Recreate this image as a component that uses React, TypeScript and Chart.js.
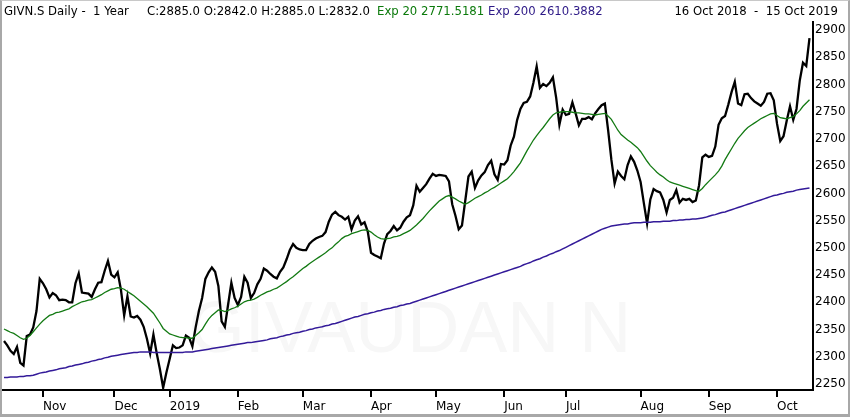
import React, { useEffect, useRef } from "react";
import { Chart, registerables } from "chart.js";

Chart.register(...registerables);

// Trading calendar (SIX Swiss Exchange)
const startDate = "2018-10-16";
const endDate = "2019-10-15";
const holidays = [
  "2018-12-24", "2018-12-25", "2018-12-26", "2018-12-31", "2019-01-01", "2019-01-02",
  "2019-04-19", "2019-04-22", "2019-05-01", "2019-05-30", "2019-06-10", "2019-08-01",
];

const monthLabels = ["Nov", "Dec", "2019", "Feb", "Mar", "Apr", "May", "Jun", "Jul", "Aug", "Sep", "Oct"];
const yTicks = [2250, 2300, 2350, 2400, 2450, 2500, 2550, 2600, 2650, 2700, 2750, 2800, 2850, 2900];

const closeValues = [
  2329, 2321, 2311, 2305, 2318, 2289, 2284, 2338, 2341, 2354,
  2384, 2443, 2435, 2424, 2409, 2417, 2413, 2404, 2405, 2404,
  2400, 2400, 2435, 2453, 2418, 2417, 2416, 2410, 2424, 2436,
  2437, 2458, 2476, 2451, 2446, 2455, 2423, 2376, 2411, 2374,
  2372, 2375, 2368, 2355, 2333, 2306, 2341, 2307, 2277, 2243,
  2271, 2296, 2321, 2316, 2317, 2321, 2339, 2335, 2319, 2354,
  2384, 2408, 2443, 2455, 2464, 2456, 2430, 2365, 2355, 2396,
  2436, 2408, 2395, 2410, 2447, 2436, 2408, 2417, 2433, 2443,
  2462, 2458, 2452, 2447, 2444, 2456, 2464, 2479, 2496, 2507,
  2500, 2497, 2496, 2496, 2507, 2513, 2517, 2520, 2522, 2529,
  2548, 2561, 2566, 2560, 2557, 2552, 2557, 2534, 2550, 2558,
  2543, 2547, 2530, 2491, 2487, 2484, 2481, 2508, 2525, 2531,
  2540, 2532, 2537, 2548, 2556, 2560, 2578, 2614, 2603, 2610,
  2617, 2627, 2636, 2632, 2634, 2633, 2632, 2622, 2580, 2559,
  2534, 2541, 2586, 2631, 2640, 2610, 2624, 2633, 2639, 2652,
  2660, 2635, 2625, 2654, 2653, 2661, 2688, 2704, 2735, 2755,
  2766, 2768, 2778, 2803, 2833, 2794, 2801, 2797, 2803, 2813,
  2776, 2726, 2754, 2744, 2746, 2767, 2747, 2725, 2737, 2737,
  2740, 2736, 2747, 2755, 2762, 2765, 2716, 2662, 2618, 2640,
  2632, 2626, 2652, 2668, 2658, 2642, 2621, 2582, 2545, 2589,
  2608, 2604, 2602, 2588, 2565, 2588, 2592, 2606, 2583, 2590,
  2588, 2590, 2584, 2587, 2615, 2666, 2671, 2667, 2669, 2686,
  2726, 2738, 2742, 2763, 2786, 2805, 2765, 2762, 2782, 2783,
  2775, 2769, 2765, 2761, 2768, 2783, 2784, 2771, 2728, 2696,
  2705, 2734, 2760, 2735, 2755, 2807, 2840, 2834, 2885,
];

const exp20Values = [
  2351, 2348, 2345, 2343, 2339, 2335, 2332, 2334, 2339, 2346,
  2353, 2360, 2366, 2371, 2376, 2378, 2381, 2382, 2384, 2386,
  2388, 2392, 2395, 2398, 2401, 2402, 2404, 2405, 2408, 2411,
  2414, 2418, 2421, 2424, 2425, 2427, 2426, 2424, 2420, 2416,
  2412, 2407, 2402, 2397, 2392, 2386, 2380, 2371, 2362, 2352,
  2347, 2342, 2340, 2338, 2336, 2335, 2335, 2334, 2334, 2339,
  2344, 2350, 2360, 2369, 2376, 2381, 2386, 2385, 2383, 2385,
  2388, 2390, 2393, 2397, 2401, 2403, 2404, 2406, 2409, 2413,
  2416, 2419, 2421, 2424, 2426, 2430, 2434, 2438, 2443, 2447,
  2452, 2457, 2462, 2466, 2471, 2475, 2479, 2483, 2487, 2491,
  2496, 2500, 2506, 2511, 2517, 2521, 2523, 2526, 2528, 2530,
  2532, 2533, 2532, 2529, 2524, 2520, 2517, 2516, 2517, 2518,
  2520, 2521, 2523, 2526, 2529, 2532, 2537, 2542, 2548, 2554,
  2561, 2568, 2574, 2580, 2586, 2590, 2594, 2596, 2593, 2590,
  2586, 2583, 2580, 2583, 2587, 2591, 2594, 2597, 2601, 2604,
  2608, 2611, 2615, 2619, 2623, 2627, 2633, 2640, 2648, 2656,
  2667, 2678, 2688, 2698, 2706, 2714, 2721, 2729, 2737, 2744,
  2748, 2749, 2750, 2750, 2750, 2749, 2748, 2748, 2747, 2746,
  2746, 2745, 2744, 2745, 2746, 2747, 2742, 2736, 2726, 2716,
  2708, 2703, 2698, 2694, 2689, 2684, 2677, 2668, 2659, 2651,
  2645, 2639, 2634, 2630, 2625, 2621, 2619, 2617, 2615, 2613,
  2611, 2609, 2607, 2605, 2604, 2609, 2616, 2622, 2628, 2634,
  2641, 2650, 2662, 2672, 2682, 2692, 2701, 2708, 2715, 2721,
  2725, 2729, 2733, 2737, 2740, 2743, 2746, 2747, 2743, 2739,
  2738, 2737, 2739, 2741, 2746, 2752, 2760, 2766, 2772,
];

const exp200Values = [
  2262, 2262, 2263, 2263, 2263, 2264, 2264, 2265, 2265, 2266,
  2268, 2270, 2271, 2272, 2274, 2275, 2276, 2278, 2279, 2280,
  2282, 2283, 2285, 2286, 2287, 2289, 2290, 2292, 2293, 2295,
  2296, 2298, 2299, 2301, 2302, 2303, 2304, 2305, 2306, 2307,
  2308, 2308, 2309, 2309, 2309, 2309, 2308, 2308, 2308, 2308,
  2308, 2308, 2308, 2308, 2308, 2308, 2309, 2309, 2309, 2310,
  2311, 2312, 2313, 2314, 2315, 2316, 2317, 2318, 2319, 2320,
  2321, 2322, 2323, 2324, 2325, 2326, 2326, 2327, 2328, 2329,
  2330, 2331, 2333, 2334, 2335, 2337, 2338, 2340, 2341, 2343,
  2344, 2345, 2347, 2348, 2350, 2351, 2353, 2354, 2355, 2357,
  2358, 2360, 2361, 2363, 2365, 2367, 2369, 2371, 2373, 2374,
  2376, 2378, 2379, 2381, 2382, 2384, 2385, 2387, 2388, 2389,
  2391, 2392, 2394, 2395, 2397, 2398, 2400, 2402, 2404, 2406,
  2408, 2410, 2412, 2414, 2416, 2418, 2420, 2422, 2424, 2426,
  2428, 2430, 2432, 2434, 2436, 2438, 2440, 2442, 2444, 2446,
  2448, 2450, 2452, 2454, 2456, 2458, 2460, 2462, 2464, 2466,
  2469, 2471, 2473, 2476, 2478, 2480, 2483, 2485, 2488, 2490,
  2493, 2495, 2498, 2501, 2504, 2507, 2510, 2513, 2516, 2519,
  2522, 2525, 2528, 2531, 2534, 2536, 2538, 2540, 2541, 2542,
  2543, 2544, 2544, 2545, 2546, 2546, 2546, 2547, 2547, 2547,
  2548, 2548, 2548, 2549, 2549, 2549, 2550, 2550, 2551, 2551,
  2552, 2552, 2553, 2553, 2554, 2555, 2556, 2558, 2560, 2561,
  2563, 2565, 2566, 2568, 2570, 2572, 2574, 2576, 2578, 2580,
  2582, 2584, 2586, 2588, 2590, 2592, 2594, 2596, 2597, 2599,
  2600, 2602, 2603, 2604, 2606, 2607, 2608, 2609, 2610,
];

function tradingDays(): Date[] {
  const out: Date[] = [];
  const d = new Date(startDate + "T00:00:00Z");
  const end = new Date(endDate + "T00:00:00Z");
  while (d.getTime() <= end.getTime()) {
    const dow = d.getUTCDay();
    const iso = d.toISOString().slice(0, 10);
    if (dow !== 0 && dow !== 6 && holidays.indexOf(iso) < 0) out.push(new Date(d.getTime()));
    d.setUTCDate(d.getUTCDate() + 1);
  }
  return out;
}

const FONT = "'DejaVu Sans', sans-serif";

export default function App() {
  const canvasRef = useRef<HTMLCanvasElement | null>(null);

  useEffect(() => {
    if (!canvasRef.current) return;
    const days = tradingDays();
    const monthIdx: number[] = [];
    for (let i = 1; i < days.length; i++) {
      if (days[i].getUTCMonth() !== days[i - 1].getUTCMonth()) monthIdx.push(i);
    }

    const watermark = {
      id: "watermark",
      beforeDatasetsDraw(chart: any) {
        const { ctx } = chart;
        ctx.save();
        ctx.font = "72px 'Liberation Sans', sans-serif";
        ctx.fillStyle = "#f7f7f7";
        ctx.textAlign = "center";
        ctx.textBaseline = "alphabetic";
        ctx.fillText("GIVAUDAN N", 410, 352);
        ctx.restore();
      },
    };

    const toXY = (arr: number[]) => arr.map((y, i) => ({ x: i, y }));

    const chart = new Chart(canvasRef.current, {
      type: "line",
      data: {
        datasets: [
          {
            label: "Exp 200",
            data: toXY(exp200Values),
            borderColor: "#331a99",
            borderWidth: 1.5,
            pointRadius: 0,
            tension: 0,
          },
          {
            label: "Exp 20",
            data: toXY(exp20Values),
            borderColor: "#137a13",
            borderWidth: 1.3,
            pointRadius: 0,
            tension: 0,
          },
          {
            label: "Close",
            data: toXY(closeValues),
            borderColor: "#000000",
            borderWidth: 2.3,
            pointRadius: 0,
            tension: 0,
          },
        ],
      },
      options: {
        animation: false,
        responsive: false,
        events: [],
        layout: { padding: { left: 3, top: 22, right: 0, bottom: 0 } },
        plugins: { legend: { display: false }, tooltip: { enabled: false } },
        scales: {
          x: {
            type: "linear",
            min: -0.31,
            max: 249.08,
            afterBuildTicks: (s: any) => {
              s.ticks = monthIdx.map((v) => ({ value: v }));
            },
            afterFit: (s: any) => {
              s.height = 27;
            },
            grid: {
              drawOnChartArea: false,
              drawTicks: true,
              tickLength: 7,
              lineWidth: 2,
              color: "#000",
            },
            border: { display: true, color: "#000", width: 2 },
            ticks: {
              autoSkip: false,
              maxRotation: 0,
              minRotation: 0,
              align: "start",
              padding: 3,
              color: "#000",
              font: { family: FONT, size: 12 },
              callback: (v: any) => {
                const k = monthIdx.indexOf(Number(v));
                return k >= 0 ? monthLabels[k] : "";
              },
            },
          },
          y: {
            position: "right",
            min: 2239,
            max: 2914.7,
            afterBuildTicks: (s: any) => {
              s.ticks = yTicks.map((v) => ({ value: v }));
            },
            afterFit: (s: any) => {
              s.width = 37;
            },
            grid: { drawOnChartArea: false, drawTicks: false },
            border: { display: true, color: "#000", width: 2 },
            ticks: {
              padding: 2,
              color: "#000",
              font: { family: FONT, size: 12 },
              callback: (v: any) => String(v),
            },
          },
        },
      },
      plugins: [watermark],
    } as any);

    return () => chart.destroy();
  }, []);

  const textStyle: React.CSSProperties = {
    position: "absolute",
    top: 4,
    fontFamily: FONT,
    fontSize: 11.7,
    lineHeight: "14px",
    whiteSpace: "pre",
    color: "#000",
  };

  return (
    <div
      style={{
        position: "fixed",
        left: 0,
        top: 0,
        width: 850,
        height: 417,
        background: "#fff",
        overflow: "hidden",
      }}
    >
      <canvas ref={canvasRef} width={850} height={417} style={{ position: "absolute", left: 0, top: 0, width: 850, height: 417 }} />
      <span style={{ ...textStyle, left: 4 }}>GIVN.S Daily -  1 Year</span>
      <span style={{ ...textStyle, left: 147 }}>C:2885.0 O:2842.0 H:2885.0 L:2832.0</span>
      <span style={{ ...textStyle, left: 377, color: "#0b7a0b" }}>Exp 20 2771.5181</span>
      <span style={{ ...textStyle, left: 488, color: "#2e1a87" }}>Exp 200 2610.3882</span>
      <span style={{ ...textStyle, right: 12 }}>16 Oct 2018  -  15 Oct 2019</span>
      <div
        style={{
          position: "absolute",
          left: 0,
          top: 0,
          width: 850,
          height: 417,
          boxSizing: "border-box",
          borderLeft: "2px solid #a8a8a8",
          borderRight: "2px solid #a8a8a8",
          borderBottom: "3px solid #a8a8a8",
          borderTop: "1px solid #c8c8c8",
          pointerEvents: "none",
        }}
      />
    </div>
  );
}
